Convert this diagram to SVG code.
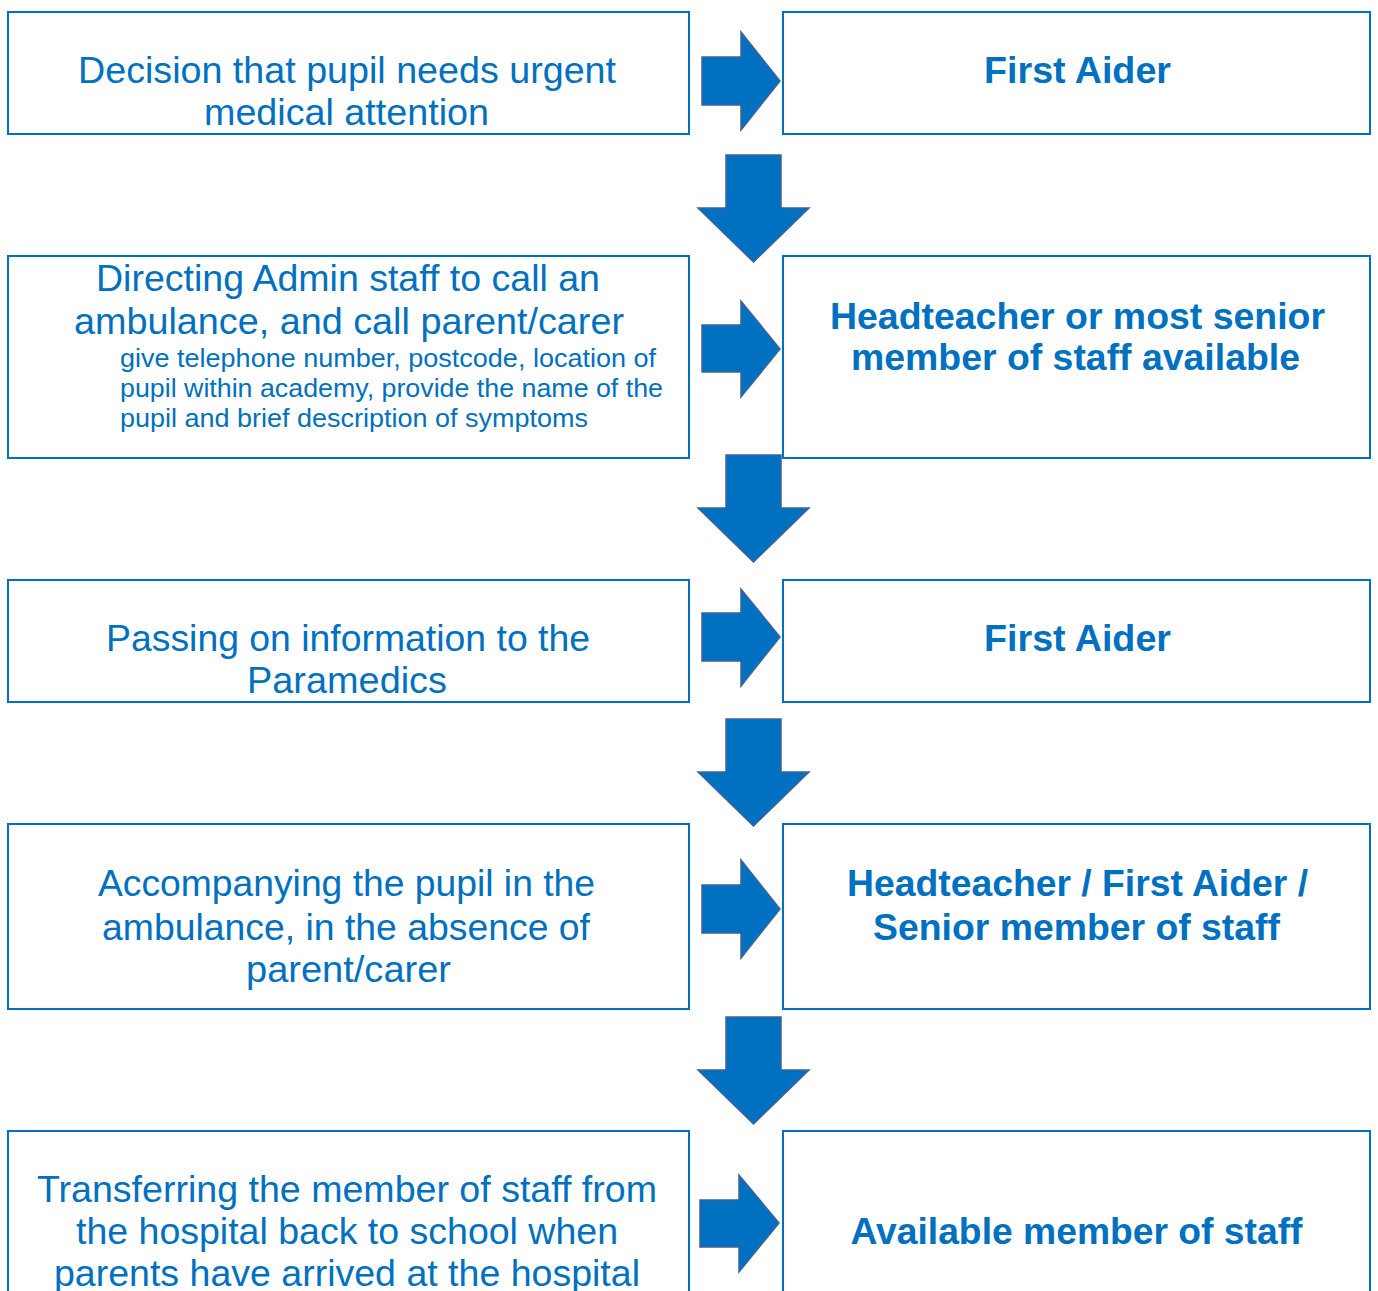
<svg xmlns="http://www.w3.org/2000/svg" width="1378" height="1291" viewBox="0 0 1378 1291">
<style>
.box{fill:#fff;stroke:#0070C0;stroke-width:2}
.arr{fill:#0070C0;stroke:#3F6297;stroke-width:1.5;stroke-linejoin:miter}
text{font-family:"Liberation Sans",Arial,sans-serif;fill:#0070C0}
.t{font-size:37px;text-anchor:middle}
.b{font-size:37px;font-weight:bold;text-anchor:middle}
.s{font-size:25px}
</style>
<rect width="1378" height="1291" fill="#fff"/>
<g id="connectors">
<polygon class="arr" points="702,57 741,57 741,32 780,81 741,130 741,105 702,105"/>
<polygon class="arr" points="702,325 741,325 741,301 780,349 741,397 741,372 702,372"/>
<polygon class="arr" points="702,613 741,613 741,589 780,637 741,686 741,661 702,661"/>
<polygon class="arr" points="702,885 741,885 741,860 780,909 741,958 741,933 702,933"/>
<polygon class="arr" points="700,1200 739,1200 739,1175 779,1223 739,1272 739,1247 700,1247"/>
<polygon class="arr" points="726,155 781,155 781,208 809,208 753.5,262 698,208 726,208"/>
<polygon class="arr" points="726,455 781,455 781,508 809,508 753.5,562 698,508 726,508"/>
<polygon class="arr" points="726,719 781,719 781,772 809,772 753.5,826 698,772 726,772"/>
<polygon class="arr" points="726,1017 781,1017 781,1070 809,1070 753.5,1124 698,1070 726,1070"/>
</g>
<g id="n1">
<rect class="box" x="8" y="12" width="681" height="122"/>
<text class="t" x="347" y="83" textLength="538" lengthAdjust="spacingAndGlyphs">Decision that pupil needs urgent</text>
<text class="t" x="346.5" y="125" textLength="285" lengthAdjust="spacingAndGlyphs">medical attention</text>
</g>
<g id="n2">
<rect class="box" x="783" y="12" width="587" height="122"/>
<text class="b" x="1077.5" y="83" textLength="187" lengthAdjust="spacingAndGlyphs">First Aider</text>
</g>
<g id="n3">
<rect class="box" x="8" y="256" width="681" height="202"/>
<text class="t" x="348" y="291" textLength="504" lengthAdjust="spacingAndGlyphs">Directing Admin staff to call an</text>
<text class="t" x="349" y="334" textLength="550" lengthAdjust="spacingAndGlyphs">ambulance, and call parent/carer</text>
<text class="s" x="120" y="367" textLength="536" lengthAdjust="spacingAndGlyphs">give telephone number, postcode, location of</text>
<text class="s" x="120" y="397" textLength="543" lengthAdjust="spacingAndGlyphs">pupil within academy, provide the name of the</text>
<text class="s" x="120" y="427" textLength="468" lengthAdjust="spacingAndGlyphs">pupil and brief description of symptoms</text>
</g>
<g id="n4">
<rect class="box" x="783" y="256" width="587" height="202"/>
<text class="b" x="1077.5" y="329" textLength="495" lengthAdjust="spacingAndGlyphs">Headteacher or most senior</text>
<text class="b" x="1075.5" y="370" textLength="449" lengthAdjust="spacingAndGlyphs">member of staff available</text>
</g>
<g id="n5">
<rect class="box" x="8" y="580" width="681" height="122"/>
<text class="t" x="348" y="651" textLength="484" lengthAdjust="spacingAndGlyphs">Passing on information to the</text>
<text class="t" x="347" y="693" textLength="200" lengthAdjust="spacingAndGlyphs">Paramedics</text>
</g>
<g id="n6">
<rect class="box" x="783" y="580" width="587" height="122"/>
<text class="b" x="1077.5" y="651" textLength="187" lengthAdjust="spacingAndGlyphs">First Aider</text>
</g>
<g id="n7">
<rect class="box" x="8" y="824" width="681" height="185"/>
<text class="t" x="346.5" y="896" textLength="497" lengthAdjust="spacingAndGlyphs">Accompanying the pupil in the</text>
<text class="t" x="346" y="940" textLength="488" lengthAdjust="spacingAndGlyphs">ambulance, in the absence of</text>
<text class="t" x="348.5" y="982" textLength="205" lengthAdjust="spacingAndGlyphs">parent/carer</text>
</g>
<g id="n8">
<rect class="box" x="783" y="824" width="587" height="185"/>
<text class="b" x="1077.5" y="896" textLength="461" lengthAdjust="spacingAndGlyphs">Headteacher / First Aider /</text>
<text class="b" x="1076.5" y="940" textLength="407" lengthAdjust="spacingAndGlyphs">Senior member of staff</text>
</g>
<g id="n9">
<rect class="box" x="8" y="1131" width="681" height="200"/>
<text class="t" x="347" y="1202" textLength="620" lengthAdjust="spacingAndGlyphs">Transferring the member of staff from</text>
<text class="t" x="347" y="1244" textLength="542" lengthAdjust="spacingAndGlyphs">the hospital back to school when</text>
<text class="t" x="347" y="1286" textLength="586" lengthAdjust="spacingAndGlyphs">parents have arrived at the hospital</text>
</g>
<g id="n10">
<rect class="box" x="783" y="1131" width="587" height="200"/>
<text class="b" x="1076.5" y="1244" textLength="452" lengthAdjust="spacingAndGlyphs">Available member of staff</text>
</g>
</svg>
